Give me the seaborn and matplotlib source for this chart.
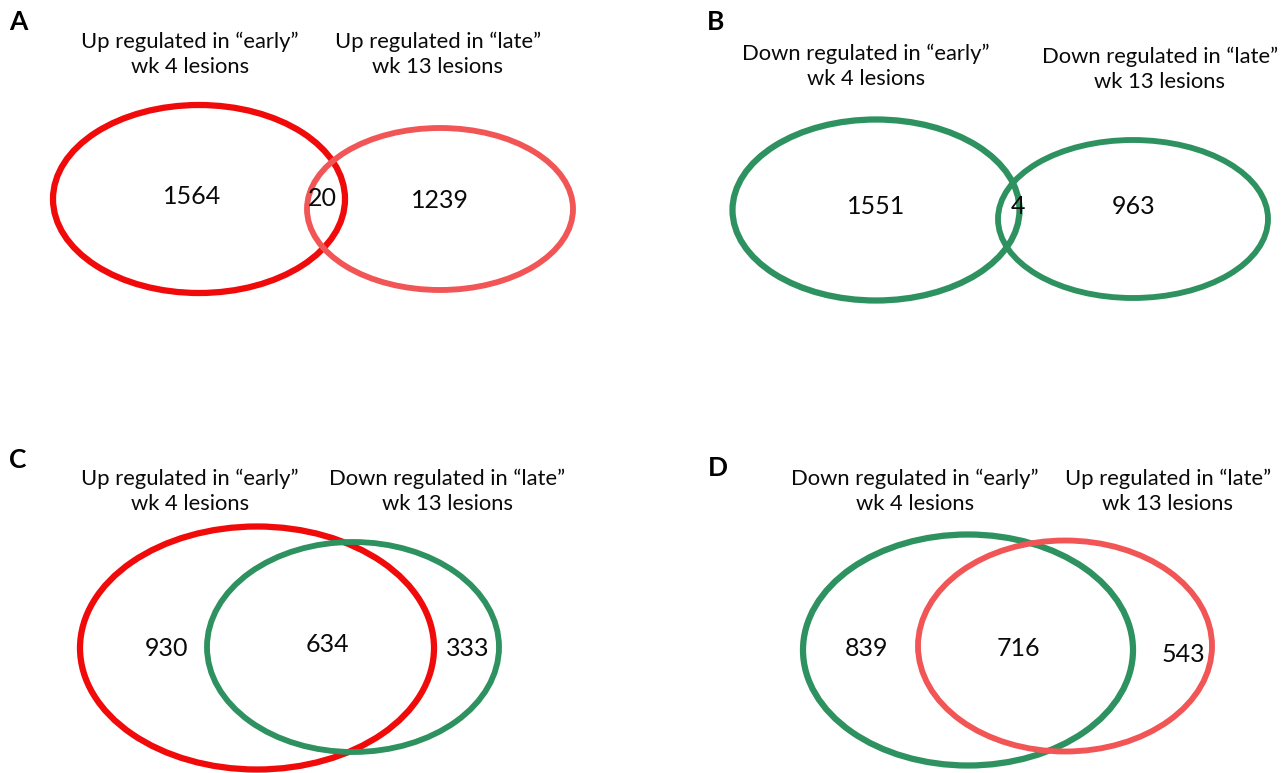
import matplotlib
matplotlib.use("Agg")
import matplotlib.pyplot as plt
from matplotlib.patches import Ellipse
import seaborn as sns

# Panel letters and set captions
panels = ["A", "B", "C", "D"]
left_titles = [
    "Up regulated in \u201cearly\u201d\nwk 4 lesions",
    "Down regulated in \u201cearly\u201d\nwk 4 lesions",
    "Up regulated in \u201cearly\u201d\nwk 4 lesions",
    "Down regulated in \u201cearly\u201d\nwk 4 lesions",
]
right_titles = [
    "Up regulated in \u201clate\u201d\nwk 13 lesions",
    "Down regulated in \u201clate\u201d\nwk 13 lesions",
    "Down regulated in \u201clate\u201d\nwk 13 lesions",
    "Up regulated in \u201clate\u201d\nwk 13 lesions",
]
# Gene counts: only-left, shared, only-right
only_left = [1564, 1551, 930, 839]
shared = [20, 4, 634, 716]
only_right = [1239, 963, 333, 543]

sns.set_theme(style="white")
plt.rcParams["font.family"] = ["Lato", "DejaVu Sans"]

pal = {"up": "#F00A0A", "up_late": "#F25555", "down": "#2E9160"}
left_colors = [pal["up"], pal["down"], pal["up"], pal["down"]]
right_colors = [pal["up_late"], pal["down"], pal["down"], pal["up_late"]]

# Layout in pixel space (x, y measured from top-left)
layout = [
    dict(letter=(18, 22), lt=(190, 54), rt=(438, 54),
         le=(199, 199, 292, 188), re=(440, 209, 266, 162),
         nl=(192, 196), ns=(322, 198), nr=(440, 200)),
    dict(letter=(716, 22), lt=(866, 66), rt=(1160, 69),
         le=(876, 210, 287, 181), re=(1133, 219, 270, 158),
         nl=(876, 207), ns=(1018, 207), nr=(1134, 207)),
    dict(letter=(18, 460), lt=(190, 491), rt=(447, 491),
         le=(257, 648, 354, 243), re=(353, 647, 292, 210),
         nl=(167, 648), ns=(327, 644), nr=(468, 648)),
    dict(letter=(718, 468), lt=(915, 491), rt=(1168, 491),
         le=(968, 650, 330, 231), re=(1065, 646, 294, 211),
         nl=(866, 648), ns=(1018, 648), nr=(1183, 654)),
]

fig = plt.figure(figsize=(12.86, 7.73), dpi=100)
ax = fig.add_axes([0, 0, 1, 1])
ax.set_xlim(0, 1286)
ax.set_ylim(773, 0)
ax.set_axis_off()

for i, p in enumerate(layout):
    ax.text(*p["letter"], panels[i], fontsize=19, fontweight="bold",
            ha="center", va="center", color="black")
    ax.text(*p["lt"], left_titles[i], fontsize=15.8, ha="center",
            va="center", linespacing=1.32, color="#0a0a0a")
    ax.text(*p["rt"], right_titles[i], fontsize=15.8, ha="center",
            va="center", linespacing=1.32, color="#0a0a0a")
    x, y, w, h = p["le"]
    ax.add_patch(Ellipse((x, y), w, h, fill=False, lw=4.5,
                         edgecolor=left_colors[i]))
    x, y, w, h = p["re"]
    ax.add_patch(Ellipse((x, y), w, h, fill=False, lw=4.2,
                         edgecolor=right_colors[i]))
    for key, val in zip(["nl", "ns", "nr"],
                        [only_left[i], shared[i], only_right[i]]):
        ax.text(*p[key], str(val), fontsize=18, ha="center",
                va="center", color="#0a0a0a")

fig.savefig("out.png", dpi=100)
